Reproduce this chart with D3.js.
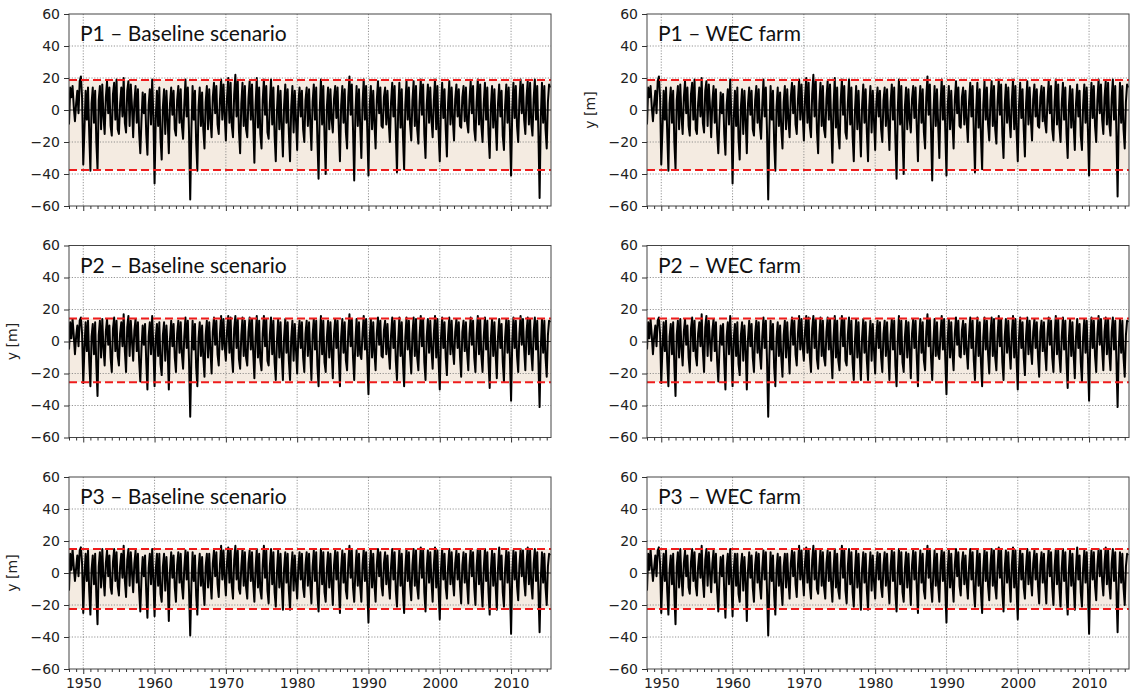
<!DOCTYPE html>
<html>
<head>
<meta charset="utf-8">
<script src="https://cdn.jsdelivr.net/npm/d3@7"></script>
<style>
  body { margin: 0; background: #fff; }
  svg { display: block; }
</style>
</head>
<body>
<svg id="chart" width="1131" height="697"></svg>
<script>
// Shoreline position y [m], bimonthly samples starting January 1948
const startYear = 1948;
const samplesPerYear = 6;

const xTickYears = [1950, 1960, 1970, 1980, 1990, 2000, 2010];
const yTickValues = [-60, -40, -20, 0, 20, 40, 60];

const panelTitles = [
  "P1 – Baseline scenario", "P1 – WEC farm",
  "P2 – Baseline scenario", "P2 – WEC farm",
  "P3 – Baseline scenario", "P3 – WEC farm"
];

// upper / lower envelope (red dashed) per profile
const upperLimits = [18.8, 14.3, 15.0];
const lowerLimits = [-37.5, -25.4, -22.5];

const p1Baseline = [
  -9,14,8,15,2,-7, 4,12,-2,18,21,8,
  -34,-12,12,-6,14,-14, -38,4,14,-8,12,-20, -37,6,15,-12,16,-4, -15,8,18,-2,14,-10, -16,10,17,-6,19,-12,
  -15,4,14,-4,20,-8, -14,12,18,-10,16,2, -17,5,15,-8,13,-14, -27,-6,11,-2,10,-15, -28,3,13,-9,19,-4,
  -46,-5,12,-10,14,-18, -31,2,13,-15,12,-6, -27,4,14,-3,12,-12, -16,6,15,-8,13,-10, -18,3,19,-4,14,-14,
  -56,-12,15,-6,12,-20, -38,2,14,-10,11,-12, -24,5,15,-12,13,-6, -17,8,17,-2,15,-9, -15,6,19,-6,16,-3,
  -19,8,20,-8,17,-10, -17,10,22,-4,18,-13, -27,4,17,-10,15,-12, -17,7,18,-6,16,-8, -33,3,20,-11,14,-15,
  -24,6,19,-3,15,-14, -18,4,19,-9,14,-16, -32,0,15,-12,12,-10, -29,3,16,-8,13,-14, -32,2,15,-14,12,-6,
  -25,4,14,-4,12,-12, -20,6,14,-10,13,-8, -25,5,16,-6,14,-18, -43,0,19,-9,15,-16, -40,2,14,-12,13,-6,
  -14,7,15,-5,14,-11, -32,3,15,-8,13,-14, -24,8,21,-3,16,-12, -44,-2,15,-10,13,-9, -30,4,19,-6,15,-13,
  -41,2,15,-12,12,-8, -24,6,18,-2,14,-10, -11,8,14,-9,12,-7, -20,5,17,-4,15,-14, -39,0,17,-11,13,-16,
  -37,3,18,-6,14,-9, -19,6,18,-10,15,-12, -21,5,19,-3,16,-15, -30,3,16,-8,14,-6, -17,6,19,-12,15,-14,
  -32,2,17,-5,13,-12, -29,4,18,-9,14,-6, -19,7,16,-4,13,-10, -11,8,15,-7,14,-8, -14,6,18,-2,15,-12,
  -19,5,19,-9,16,-10, -20,4,17,-6,14,-15, -30,2,15,-11,13,-9, -25,4,16,-4,12,-16, -25,3,16,-8,14,-12,
  -41,0,17,-5,15,-10, -20,6,19,-2,16,-6, -15,8,18,-9,17,-8, -16,7,19,-6,15,-14, -55,-5,17,-8,15,-12,
  -24,5,16,14
];

const p1Wec = [
  -9,14,8,15,2,-7, 4,12,-2,18,21,8,
  -34,-12,12,-6,14,-14, -38,4,14,-8,12,-20, -37,6,15,-12,16,-4, -15,8,18,-2,14,-10, -16,10,17,-6,19,-12,
  -15,4,14,-4,20,-8, -14,12,18,-10,16,2, -17,5,15,-8,13,-14, -27,-6,11,-2,10,-15, -28,3,13,-9,19,-4,
  -46,-5,12,-10,14,-18, -31,2,13,-15,12,-6, -27,4,14,-3,12,-12, -16,6,15,-8,13,-10, -18,3,19,-4,14,-14,
  -56,-12,15,-6,12,-20, -38,2,14,-10,11,-12, -24,5,15,-12,13,-6, -17,8,17,-2,15,-9, -15,6,19,-6,16,-3,
  -19,8,20,-8,17,-10, -17,10,22,-4,18,-13, -27,4,17,-10,15,-12, -17,7,18,-6,16,-8, -33,3,20,-11,14,-15,
  -24,6,19,-3,15,-14, -18,4,19,-9,14,-16, -32,0,15,-12,12,-10, -29,3,16,-8,13,-14, -32,2,15,-14,12,-6,
  -25,4,14,-4,12,-12, -20,6,14,-10,13,-8, -25,5,16,-6,14,-18, -43,0,19,-9,15,-16, -40,2,14,-12,13,-6,
  -14,7,15,-5,14,-11, -32,3,15,-8,13,-14, -24,8,21,-3,16,-12, -44,-2,15,-10,13,-9, -30,4,19,-6,15,-13,
  -41,2,15,-12,12,-8, -24,6,18,-2,14,-10, -11,8,14,-9,12,-7, -20,5,17,-4,15,-14, -39,0,17,-11,13,-16,
  -37,3,18,-6,14,-9, -19,6,18,-10,15,-12, -21,5,19,-3,16,-15, -30,3,16,-8,14,-6, -17,6,19,-12,15,-14,
  -32,2,17,-5,13,-12, -29,4,18,-9,14,-6, -19,7,16,-4,13,-10, -11,8,15,-7,14,-8, -14,6,18,-2,15,-12,
  -19,5,19,-9,16,-10, -20,4,17,-6,14,-15, -30,2,15,-11,13,-9, -25,4,16,-4,12,-16, -25,3,16,-8,14,-12,
  -41,0,17,-5,15,-10, -20,6,19,-2,16,-6, -15,8,18,-9,17,-8, -16,7,19,-6,15,-14, -54,-5,17,-8,15,-12,
  -24,5,16,14
];

const p2Baseline = [
  -5,12,2,14,4,-8, 3,10,-3,13,15,5,
  -26,-4,12,-6,13,-12, -28,3,11,-8,12,-15, -34,4,13,-10,14,-4, -15,6,14,-2,10,-10, -19,8,15,-6,13,-9,
  -15,5,12,-3,17,-6, -19,9,16,-9,13,0, -12,7,14,-6,12,-12, -25,-4,10,-2,11,-13, -30,3,12,-8,16,-4,
  -28,2,11,-9,12,-14, -21,4,12,-12,10,-5, -30,2,13,-3,11,-10, -19,5,13,-7,12,-8, -17,3,15,-4,13,-12,
  -47,-9,13,-5,11,-16, -28,2,12,-9,10,-10, -22,4,13,-10,12,-5, -20,6,15,-2,13,-8, -15,5,16,-5,14,-3,
  -12,7,16,-7,15,-9, -19,8,16,-4,14,-11, -17,4,15,-9,13,-10, -15,6,15,-5,14,-7, -23,3,16,-10,13,-12,
  -18,5,16,-3,14,-12, -15,4,15,-8,13,-13, -24,1,14,-10,12,-9, -24,3,14,-7,12,-12, -24,2,13,-12,11,-5,
  -20,4,13,-4,12,-10, -19,5,13,-9,12,-7, -24,4,14,-5,13,-15, -28,1,16,-8,13,-13, -19,3,13,-10,12,-6,
  -23,5,14,-4,13,-10, -28,3,14,-7,12,-12, -18,6,17,-3,14,-10, -24,0,14,-9,12,-8, -11,5,16,-5,14,-11,
  -33,2,14,-10,12,-7, -18,5,15,-2,13,-9, -10,7,13,-8,11,-6, -17,4,15,-4,13,-12, -24,1,15,-9,12,-13,
  -28,3,15,-5,13,-8, -20,5,15,-9,14,-10, -18,4,16,-3,14,-13, -24,3,14,-7,13,-5, -17,5,16,-10,14,-12,
  -30,2,15,-4,12,-10, -21,4,15,-8,13,-5, -14,6,14,-4,12,-9, -22,6,13,-6,12,-7, -18,5,15,-2,13,-10,
  -19,4,16,-8,14,-9, -19,3,15,-5,13,-13, -29,2,14,-9,12,-8, -23,3,14,-4,11,-13, -25,3,14,-7,13,-10,
  -37,0,15,-4,13,-9, -19,5,16,-2,14,-5, -18,6,15,-8,14,-7, -18,6,15,-5,13,-12, -41,-4,14,-7,13,-10,
  -22,4,13,12
];

const p2Wec = [
  -5,12,2,14,4,-8, 3,10,-3,13,15,5,
  -26,-4,12,-6,13,-12, -28,3,11,-8,12,-15, -34,4,13,-10,14,-4, -15,6,14,-2,10,-10, -19,8,15,-6,13,-9,
  -15,5,12,-3,17,-6, -19,9,16,-9,13,0, -12,7,14,-6,12,-12, -25,-4,10,-2,11,-13, -30,3,12,-8,16,-4,
  -28,2,11,-9,12,-14, -21,4,12,-12,10,-5, -30,2,13,-3,11,-10, -19,5,13,-7,12,-8, -17,3,15,-4,13,-12,
  -47,-9,13,-5,11,-16, -28,2,12,-9,10,-10, -22,4,13,-10,12,-5, -20,6,15,-2,13,-8, -15,5,16,-5,14,-3,
  -12,7,16,-7,15,-9, -19,8,16,-4,14,-11, -17,4,15,-9,13,-10, -15,6,15,-5,14,-7, -23,3,16,-10,13,-12,
  -18,5,16,-3,14,-12, -15,4,15,-8,13,-13, -24,1,14,-10,12,-9, -24,3,14,-7,12,-12, -24,2,13,-12,11,-5,
  -20,4,13,-4,12,-10, -19,5,13,-9,12,-7, -24,4,14,-5,13,-15, -28,1,16,-8,13,-13, -19,3,13,-10,12,-6,
  -23,5,14,-4,13,-10, -28,3,14,-7,12,-12, -18,6,17,-3,14,-10, -24,0,14,-9,12,-8, -11,5,16,-5,14,-11,
  -33,2,14,-10,12,-7, -18,5,15,-2,13,-9, -10,7,13,-8,11,-6, -17,4,15,-4,13,-12, -24,1,15,-9,12,-13,
  -28,3,15,-5,13,-8, -20,5,15,-9,14,-10, -18,4,16,-3,14,-13, -24,3,14,-7,13,-5, -17,5,16,-10,14,-12,
  -30,2,15,-4,12,-10, -21,4,15,-8,13,-5, -14,6,14,-4,12,-9, -22,6,13,-6,12,-7, -18,5,15,-2,13,-10,
  -19,4,16,-8,14,-9, -19,3,15,-5,13,-13, -29,2,14,-9,12,-8, -23,3,14,-4,11,-13, -25,3,14,-7,13,-10,
  -37,0,15,-4,13,-9, -19,5,16,-2,14,-5, -18,6,15,-8,14,-7, -18,6,15,-5,13,-12, -41,-4,14,-7,13,-10,
  -22,4,13,12
];

const p3Baseline = [
  -11,12,2,15,4,-5, 3,11,-2,14,16,6,
  -25,-2,12,-5,14,-11, -26,2,11,-7,12,-14, -32,4,13,-9,15,-3, -14,6,14,-2,11,-9, -13,7,15,-5,13,-8,
  -14,4,12,-3,17,-5, -15,8,15,-8,13,0, -12,6,14,-6,12,-11, -24,-3,10,-2,11,-12, -28,3,12,-7,15,-4,
  -27,2,12,-8,12,-13, -18,4,12,-11,10,-5, -30,2,13,-3,11,-9, -18,5,13,-6,12,-8, -16,3,14,-4,13,-11,
  -39,-7,13,-5,11,-14, -26,2,12,-8,10,-9, -20,4,12,-9,12,-5, -16,6,14,-2,13,-7, -15,5,17,-4,14,-3,
  -14,7,16,-6,15,-8, -16,8,17,-4,14,-10, -13,4,15,-8,13,-9, -16,6,14,-5,13,-7, -18,3,15,-9,12,-11,
  -16,5,17,-3,14,-11, -19,4,15,-7,13,-12, -21,1,14,-9,12,-8, -23,3,13,-6,12,-11, -23,2,13,-11,11,-5,
  -16,4,13,-4,12,-9, -15,5,13,-8,12,-7, -19,4,14,-5,13,-13, -24,1,15,-7,13,-12, -18,3,13,-9,12,-6,
  -20,5,14,-4,13,-9, -25,3,14,-6,12,-11, -16,6,17,-3,14,-9, -18,1,14,-8,12,-8, -18,5,15,-5,13,-10,
  -31,2,14,-9,12,-7, -18,5,15,-2,13,-8, -14,6,13,-7,11,-6, -16,4,15,-4,13,-11, -21,1,15,-8,12,-12,
  -25,3,15,-5,13,-8, -17,5,15,-8,14,-9, -16,4,16,-3,14,-12, -24,3,14,-6,13,-5, -18,5,16,-9,14,-11,
  -29,2,15,-4,12,-9, -16,4,15,-7,13,-5, -14,6,14,-4,12,-8, -19,5,13,-6,12,-7, -19,5,15,-2,13,-9,
  -20,4,15,-7,14,-9, -21,3,15,-5,13,-12, -26,2,14,-8,12,-8, -23,3,16,-4,11,-12, -21,3,14,-6,13,-9,
  -38,0,14,-4,13,-8, -17,5,15,-2,14,-5, -14,6,16,-7,14,-7, -16,6,15,-5,13,-11, -37,-4,13,-6,12,-9,
  -20,4,12,11
];

const p3Wec = [
  -11,12,2,15,4,-5, 3,11,-2,14,16,6,
  -25,-2,12,-5,14,-11, -26,2,11,-7,12,-14, -32,4,13,-9,15,-3, -14,6,14,-2,11,-9, -13,7,15,-5,13,-8,
  -14,4,12,-3,17,-5, -15,8,15,-8,13,0, -12,6,14,-6,12,-11, -24,-3,10,-2,11,-12, -28,3,12,-7,15,-4,
  -27,2,12,-8,12,-13, -18,4,12,-11,10,-5, -30,2,13,-3,11,-9, -18,5,13,-6,12,-8, -16,3,14,-4,13,-11,
  -39,-7,13,-5,11,-14, -26,2,12,-8,10,-9, -20,4,12,-9,12,-5, -16,6,14,-2,13,-7, -15,5,17,-4,14,-3,
  -14,7,16,-6,15,-8, -16,8,17,-4,14,-10, -13,4,15,-8,13,-9, -16,6,14,-5,13,-7, -18,3,15,-9,12,-11,
  -16,5,17,-3,14,-11, -19,4,15,-7,13,-12, -21,1,14,-9,12,-8, -23,3,13,-6,12,-11, -23,2,13,-11,11,-5,
  -16,4,13,-4,12,-9, -15,5,13,-8,12,-7, -19,4,14,-5,13,-13, -24,1,15,-7,13,-12, -18,3,13,-9,12,-6,
  -20,5,14,-4,13,-9, -25,3,14,-6,12,-11, -16,6,17,-3,14,-9, -18,1,14,-8,12,-8, -18,5,15,-5,13,-10,
  -31,2,14,-9,12,-7, -18,5,15,-2,13,-8, -14,6,13,-7,11,-6, -16,4,15,-4,13,-11, -21,1,15,-8,12,-12,
  -25,3,15,-5,13,-8, -17,5,15,-8,14,-9, -16,4,16,-3,14,-12, -24,3,14,-6,13,-5, -18,5,16,-9,14,-11,
  -29,2,15,-4,12,-9, -16,4,15,-7,13,-5, -14,6,14,-4,12,-8, -19,5,13,-6,12,-7, -19,5,15,-2,13,-9,
  -20,4,15,-7,14,-9, -21,3,15,-5,13,-12, -26,2,14,-8,12,-8, -23,3,16,-4,11,-12, -21,3,14,-6,13,-9,
  -38,0,14,-4,13,-8, -17,5,15,-2,14,-5, -14,6,16,-7,14,-7, -16,6,15,-5,13,-11, -37,-4,13,-6,12,-9,
  -20,4,12,11
];

// ---- layout ----
const colLeft = [69, 647];
const rowTop = [14, 245.5, 477];
const plotW = 482, plotH = 192;
const bandColor = "#f4ebe1";
const tickFont = "'DejaVu Sans', sans-serif";

const panels = [
  { title: panelTitles[0], values: p1Baseline, row: 0, col: 0, yLabel: false },
  { title: panelTitles[1], values: p1Wec,      row: 0, col: 1, yLabel: true },
  { title: panelTitles[2], values: p2Baseline, row: 1, col: 0, yLabel: true },
  { title: panelTitles[3], values: p2Wec,      row: 1, col: 1, yLabel: false },
  { title: panelTitles[4], values: p3Baseline, row: 2, col: 0, yLabel: true },
  { title: panelTitles[5], values: p3Wec,      row: 2, col: 1, yLabel: false }
];

const svg = d3.select("#chart");
const x = d3.scaleLinear().domain([1948, 2015.6]).range([0, plotW]);
const y = d3.scaleLinear().domain([-60, 60]).range([plotH, 0]);
const minorYears = d3.range(1948, 2016);
const fmtY = d => (d < 0 ? "\u2212" + Math.abs(d) : String(d));

panels.forEach((p, idx) => {
  const g = svg.append("g")
    .attr("transform", `translate(${colLeft[p.col]},${rowTop[p.row]})`);

  g.append("clipPath").attr("id", "clip" + idx)
    .append("rect").attr("width", plotW).attr("height", plotH);

  const up = upperLimits[p.row], lo = lowerLimits[p.row];

  // shaded envelope between the limits
  g.append("rect")
    .attr("x", 0).attr("width", plotW)
    .attr("y", y(up)).attr("height", y(lo) - y(up))
    .attr("fill", bandColor);

  // dotted grid
  const grid = g.append("g").attr("stroke", "#7a7a7a").attr("stroke-width", 0.8)
    .attr("stroke-dasharray", "1.2,1.6");
  grid.selectAll("line.v").data(xTickYears).join("line")
    .attr("x1", d => x(d)).attr("x2", d => x(d)).attr("y1", 0).attr("y2", plotH);
  grid.selectAll("line.h").data(yTickValues.filter(v => v !== 0 && Math.abs(v) < 60)).join("line")
    .attr("x1", 0).attr("x2", plotW).attr("y1", d => y(d)).attr("y2", d => y(d));

  // zero line
  g.append("line").attr("x1", 0).attr("x2", plotW)
    .attr("y1", y(0)).attr("y2", y(0))
    .attr("stroke", "#222").attr("stroke-width", 0.9);

  // time series
  const line = d3.line()
    .x((d, i) => x(startYear + i / samplesPerYear))
    .y(d => y(d));
  g.append("path").datum(p.values)
    .attr("clip-path", `url(#clip${idx})`)
    .attr("d", line)
    .attr("fill", "none").attr("stroke", "#000")
    .attr("stroke-width", 2).attr("stroke-linejoin", "round");

  // envelope limits
  [up, lo].forEach(v => {
    g.append("line").attr("x1", 0).attr("x2", plotW)
      .attr("y1", y(v)).attr("y2", y(v))
      .attr("stroke", "#ee1c1c").attr("stroke-width", 2)
      .attr("stroke-dasharray", "8,4");
  });

  // frame
  g.append("rect").attr("width", plotW).attr("height", plotH)
    .attr("fill", "none").attr("stroke", "#444").attr("stroke-width", 1);

  // axes
  const xMajor = d3.axisBottom(x).tickValues(xTickYears).tickSize(5).tickPadding(4)
    .tickSizeOuter(0)
    .tickFormat(p.row === 2 ? d3.format("d") : () => "");
  const xMinor = d3.axisBottom(x).tickValues(minorYears.filter(d => d % 10 !== 0))
    .tickSize(3).tickSizeOuter(0).tickFormat(() => "");
  const yAxis = d3.axisLeft(y).tickValues(yTickValues).tickSize(5).tickPadding(4)
    .tickSizeOuter(0).tickFormat(fmtY);

  [g.append("g").attr("transform", `translate(0,${plotH})`).call(xMinor),
   g.append("g").attr("transform", `translate(0,${plotH})`).call(xMajor),
   g.append("g").call(yAxis)].forEach(a => {
    a.select(".domain").remove();
    a.selectAll("line").attr("stroke", "#333");
    a.selectAll("text").attr("fill", "#222")
      .style("font-family", tickFont).style("font-size", "14px");
  });

  // panel title
  g.append("text")
    .attr("x", 11).attr("y", 27)
    .style("font-family", "Lato, 'Open Sans', sans-serif")
    .style("font-size", "21px")
    .attr("fill", "#111")
    .text(p.title);

  if (p.yLabel) {
    g.append("text")
      .attr("transform", `translate(-52,${plotH / 2}) rotate(-90)`)
      .attr("text-anchor", "middle")
      .style("font-family", tickFont).style("font-size", "14px")
      .attr("fill", "#222")
      .text("y [m]");
  }
});
</script>
</body>
</html>
